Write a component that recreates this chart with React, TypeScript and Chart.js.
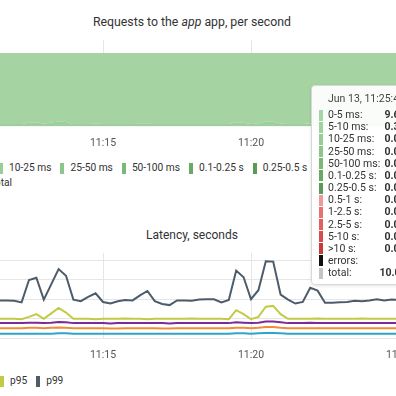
import React, { useEffect, useRef } from "react";
import { Chart, registerables } from "chart.js";

Chart.register(...registerables);

// sample times, seconds of day (11:11:15 .. 11:25:45, every 15 s)
const times: number[] = Array.from({ length: 59 }, (_, i) => 40275 + i * 15);
const xTicks = [40500, 40800, 41100];
const latencyGridValues = [0, 0.05, 0.1, 0.15, 0.2];

// requests per second by latency bucket
const ms0_5 = [
  9.68, 9.67, 9.68, 9.66, 9.68, 9.5, 9.43, 9.64, 9.48, 9.32,
  9.4, 9.67, 9.68, 9.66, 9.64, 9.68, 9.69, 9.68, 9.67, 9.67,
  9.65, 9.64, 9.68, 9.69, 9.68, 9.67, 9.68, 9.68, 9.67, 9.68,
  9.69, 9.68, 9.67, 9.45, 9.5, 9.67, 9.57, 9.34, 9.36, 9.59,
  9.68, 9.69, 9.68, 9.62, 9.64, 9.68, 9.68, 9.67, 9.68, 9.68,
  9.69, 9.68, 9.67, 9.68, 9.68, 9.67, 9.68, 9.68, 9.65,
];
const ms5_10 = [
  0.3, 0.31, 0.3, 0.32, 0.3, 0.46, 0.52, 0.34, 0.48, 0.62,
  0.55, 0.31, 0.3, 0.32, 0.33, 0.3, 0.29, 0.3, 0.31, 0.3,
  0.32, 0.34, 0.3, 0.29, 0.3, 0.31, 0.3, 0.3, 0.31, 0.3,
  0.29, 0.3, 0.31, 0.5, 0.46, 0.31, 0.4, 0.6, 0.58, 0.38,
  0.3, 0.29, 0.3, 0.35, 0.33, 0.3, 0.3, 0.31, 0.3, 0.3,
  0.29, 0.3, 0.31, 0.3, 0.3, 0.31, 0.3, 0.3, 0.33,
];
const ms10_25 = [
  0.02, 0.02, 0.02, 0.02, 0.02, 0.04, 0.05, 0.02, 0.04, 0.06,
  0.05, 0.02, 0.02, 0.02, 0.03, 0.02, 0.02, 0.02, 0.02, 0.03,
  0.03, 0.02, 0.02, 0.02, 0.02, 0.02, 0.02, 0.02, 0.02, 0.02,
  0.02, 0.02, 0.02, 0.05, 0.04, 0.02, 0.03, 0.06, 0.06, 0.03,
  0.02, 0.02, 0.02, 0.03, 0.03, 0.02, 0.02, 0.02, 0.02, 0.02,
  0.02, 0.02, 0.02, 0.02, 0.02, 0.02, 0.02, 0.02, 0.02,
];

// latency percentiles, seconds
const p50 = [
  0.012, 0.012, 0.012, 0.012, 0.012, 0.012, 0.012, 0.012, 0.012, 0.013,
  0.013, 0.012, 0.012, 0.012, 0.012, 0.012, 0.012, 0.012, 0.012, 0.012,
  0.012, 0.012, 0.012, 0.012, 0.012, 0.012, 0.012, 0.012, 0.012, 0.012,
  0.012, 0.012, 0.012, 0.013, 0.013, 0.012, 0.013, 0.014, 0.014, 0.013,
  0.012, 0.012, 0.012, 0.012, 0.012, 0.012, 0.012, 0.012, 0.012, 0.012,
  0.012, 0.012, 0.012, 0.012, 0.012, 0.012, 0.012, 0.012, 0.012,
];
const p75 = [
  0.026, 0.026, 0.026, 0.026, 0.026, 0.027, 0.027, 0.026, 0.027, 0.028,
  0.027, 0.026, 0.026, 0.026, 0.026, 0.026, 0.025, 0.025, 0.026, 0.026,
  0.026, 0.026, 0.026, 0.025, 0.025, 0.026, 0.026, 0.026, 0.026, 0.026,
  0.026, 0.026, 0.026, 0.027, 0.027, 0.026, 0.027, 0.029, 0.029, 0.027,
  0.026, 0.026, 0.026, 0.026, 0.026, 0.026, 0.026, 0.026, 0.026, 0.026,
  0.026, 0.026, 0.026, 0.026, 0.026, 0.026, 0.026, 0.026, 0.026,
];
const p90 = [
  0.039, 0.039, 0.039, 0.039, 0.039, 0.04, 0.04, 0.039, 0.04, 0.042,
  0.041, 0.039, 0.039, 0.039, 0.039, 0.039, 0.038, 0.039, 0.039, 0.039,
  0.039, 0.039, 0.039, 0.039, 0.038, 0.039, 0.039, 0.039, 0.039, 0.039,
  0.039, 0.039, 0.039, 0.041, 0.04, 0.039, 0.04, 0.043, 0.043, 0.041,
  0.039, 0.039, 0.039, 0.04, 0.039, 0.039, 0.039, 0.039, 0.039, 0.039,
  0.039, 0.039, 0.039, 0.039, 0.039, 0.039, 0.039, 0.039, 0.039,
];
const p95 = [
  0.05, 0.05, 0.05, 0.05, 0.049, 0.055, 0.062, 0.05, 0.064, 0.078,
  0.066, 0.05, 0.05, 0.05, 0.049, 0.05, 0.05, 0.05, 0.051, 0.05,
  0.05, 0.049, 0.05, 0.05, 0.05, 0.05, 0.05, 0.051, 0.05, 0.05,
  0.05, 0.05, 0.049, 0.072, 0.062, 0.049, 0.055, 0.081, 0.083, 0.062,
  0.05, 0.05, 0.05, 0.05, 0.051, 0.05, 0.05, 0.05, 0.05, 0.05,
  0.051, 0.05, 0.05, 0.05, 0.05, 0.05, 0.05, 0.05, 0.05,
];
const p99 = [
  0.097, 0.097, 0.097, 0.096, 0.092, 0.149, 0.155, 0.099, 0.138, 0.177,
  0.16, 0.099, 0.095, 0.106, 0.115, 0.093, 0.089, 0.095, 0.098, 0.097,
  0.11, 0.121, 0.095, 0.088, 0.085, 0.097, 0.097, 0.096, 0.099, 0.1,
  0.1, 0.092, 0.098, 0.173, 0.156, 0.1, 0.123, 0.197, 0.196, 0.112,
  0.099, 0.089, 0.093, 0.129, 0.122, 0.091, 0.091, 0.092, 0.093, 0.096,
  0.095, 0.097, 0.1, 0.097, 0.099, 0.098, 0.097, 0.099, 0.098,
];

const bucketLabels = [
  "0-5 ms", "5-10 ms", "10-25 ms", "25-50 ms", "50-100 ms", "0.1-0.25 s", "0.25-0.5 s",
  "0.5-1 s", "1-2.5 s", "2.5-5 s", "5-10 s", ">10 s", "errors", "total",
];
const bucketColors = [
  "#a5d6a7", "#9ed29f", "#97cd96", "#8dc68b", "#79b876", "#66aa63", "#579d54",
  "#ef9a9a", "#e57373", "#e15f5f", "#d84b4b", "#c93b36", "#111111", "#c4c4c4",
];
const areaColors = ["#a5d4a2", "#9dcf9a", "#94ca91"];

const pctLabels = ["p50", "p75", "p90", "p95", "p99"];
const pctColors = ["#2ea5c6", "#ef8c3a", "#7b2a9a", "#c3cb46", "#4d5c6b"];

const FONT = "Roboto, 'Noto Sans', sans-serif";
const PX_PER_SEC = 7.4 / 15;
const X_MIN = 40500 - 103 / PX_PER_SEC;
const X_MAX = X_MIN + 500 / PX_PER_SEC;

const fmtTime = (v: number) => {
  const h = Math.floor(v / 3600);
  const m = Math.floor((v % 3600) / 60);
  return `${h}:${String(m).padStart(2, "0")}`;
};
const fmtFull = (v: number) => {
  const h = Math.floor(v / 3600);
  const m = Math.floor((v % 3600) / 60);
  const s = Math.round(v % 60);
  return `Jun 13, ${h}:${String(m).padStart(2, "0")}:${String(s).padStart(2, "0")}`;
};

const xScale = () => ({
  type: "linear" as const,
  min: X_MIN,
  max: X_MAX,
  afterBuildTicks: (s: any) => {
    s.ticks = xTicks.map((v) => ({ value: v }));
  },
  ticks: {
    callback: (v: any) => fmtTime(Number(v)),
    color: "#555",
    font: { family: FONT, size: 10.5, lineHeight: 1.2 },
    padding: 11,
    maxRotation: 0,
    autoSkip: false,
  },
  grid: { color: "#e6e6e6", drawTicks: false },
  border: { display: false },
});

function LegendItem({ label, color, last }: { label: string; color: string; last?: boolean }) {
  return (
    <span style={{ display: "inline-flex", alignItems: "center", height: 12, marginRight: last ? 0 : 9, whiteSpace: "nowrap" }}>
      <span style={{ display: "inline-block", width: 4, height: 11, background: color, marginRight: 6 }} />
      {label}
    </span>
  );
}

const legendRow = { display: "flex", fontSize: 10.2, lineHeight: "12px" } as const;

export default function App() {
  const topRef = useRef<HTMLCanvasElement>(null);
  const latRef = useRef<HTMLCanvasElement>(null);

  useEffect(() => {
    const stackSeries = [
      { label: bucketLabels[2], data: ms10_25, color: areaColors[2] },
      { label: bucketLabels[1], data: ms5_10, color: areaColors[1] },
      { label: bucketLabels[0], data: ms0_5, color: areaColors[0] },
    ];
    const top = new Chart(topRef.current!, {
      type: "line",
      data: {
        datasets: stackSeries.map((s, i) => ({
          label: s.label,
          data: times.map((t, k) => ({ x: t, y: s.data[k] })),
          fill: i === 0 ? "origin" : "-1",
          backgroundColor: s.color,
          borderColor: s.color,
          borderWidth: 0,
          pointRadius: 0,
          tension: 0,
        })),
      },
      options: {
        animation: false,
        responsive: false,
        layout: { padding: 0 },
        plugins: { legend: { display: false }, tooltip: { enabled: false } },
        scales: {
          x: xScale(),
          y: { display: false, stacked: true, min: 0, max: 11.77 },
        },
      } as any,
    });

    const pctSeries = [p50, p75, p90, p95, p99];
    const lat = new Chart(latRef.current!, {
      type: "line",
      data: {
        datasets: pctSeries.map((d, i) => ({
          label: pctLabels[i],
          data: times.map((t, k) => ({ x: t, y: d[k] })),
          fill: false,
          borderColor: pctColors[i],
          backgroundColor: pctColors[i],
          borderWidth: 2,
          pointRadius: 0,
          tension: 0,
        })),
      },
      options: {
        animation: false,
        responsive: false,
        layout: { padding: 0 },
        plugins: { legend: { display: false }, tooltip: { enabled: false } },
        scales: {
          x: xScale(),
          y: {
            min: 0,
            max: 0.218,
            afterBuildTicks: (s: any) => {
              s.ticks = latencyGridValues.map((v) => ({ value: v }));
            },
            ticks: { display: false },
            grid: { color: "#e6e6e6", drawTicks: false },
            border: { display: false },
          },
        },
      } as any,
    });
    return () => {
      top.destroy();
      lat.destroy();
    };
  }, []);

  const last = times.length - 1;
  const hoverValues: (number | null)[] = bucketLabels.map((_, i) => {
    if (i === 0) return ms0_5[last];
    if (i === 1) return ms5_10[last];
    if (i === 2) return ms10_25[last];
    if (i === 12) return null;
    if (i === 13) return ms0_5[last] + ms5_10[last] + ms10_25[last];
    return 0;
  });

  return (
    <div
      style={{
        position: "fixed",
        left: 0,
        top: 0,
        width: 396,
        height: 396,
        overflow: "hidden",
        background: "#fff",
        fontFamily: FONT,
        color: "#333",
      }}
    >
      <div style={{ position: "absolute", top: 13.5, left: 0, width: 384, textAlign: "center", fontSize: 12.3, lineHeight: "16px" }}>
        Requests to the <i>app</i> app, per second
      </div>
      <canvas ref={topRef} width={500} height={121} style={{ position: "absolute", left: 0, top: 40, width: 500, height: 121 }} />

      {/* requests legend */}
      <div style={{ position: "absolute", top: 162, right: 397, ...legendRow }}>
        {bucketLabels.slice(0, 2).map((l, i) => (
          <LegendItem key={l} label={l} color={bucketColors[i]} />
        ))}
      </div>
      <div style={{ position: "absolute", top: 162, left: -1, ...legendRow }}>
        {bucketLabels.slice(2, 11).map((l, i) => (
          <LegendItem key={l} label={l} color={bucketColors[i + 2]} />
        ))}
      </div>
      <div style={{ position: "absolute", top: 177, right: 384, ...legendRow }}>
        {bucketLabels.slice(11).map((l, i) => (
          <LegendItem key={l} label={l} color={bucketColors[i + 11]} last={i === 2} />
        ))}
      </div>

      <div style={{ position: "absolute", top: 227, left: 0, width: 384, textAlign: "center", fontSize: 12, lineHeight: "16px" }}>
        Latency, seconds
      </div>
      <canvas ref={latRef} width={500} height={120} style={{ position: "absolute", left: 0, top: 253, width: 500, height: 120 }} />

      {/* latency legend */}
      <div style={{ position: "absolute", top: 375, right: 396, ...legendRow }}>
        {pctLabels.slice(0, 3).map((l, i) => (
          <LegendItem key={l} label={l} color={pctColors[i]} />
        ))}
      </div>
      <div style={{ position: "absolute", top: 375, left: 0, ...legendRow }}>
        {pctLabels.slice(3).map((l, i) => (
          <LegendItem key={l} label={l} color={pctColors[i + 3]} />
        ))}
      </div>

      {/* hover tooltip */}
      <div
        style={{
          position: "absolute",
          left: 311,
          top: 85,
          width: 130,
          height: 200,
          boxSizing: "border-box",
          border: "1px solid #d8d8d8",
          borderRadius: 4,
          background: "rgba(255,255,255,0.93)",
          boxShadow: "0 1px 3px rgba(0,0,0,0.12)",
          fontSize: 10.5,
          zIndex: 5,
        }}
      >
        <div style={{ position: "absolute", left: 16, top: 5.6, lineHeight: "13px", color: "#444", whiteSpace: "nowrap" }}>
          {fmtFull(times[last])}
        </div>
        {bucketLabels.map((l, i) => (
          <div
            key={l}
            style={{
              position: "absolute",
              left: 7,
              top: 23.1 + i * 12.15,
              height: 12.15,
              display: "flex",
              alignItems: "center",
              lineHeight: "12px",
              whiteSpace: "nowrap",
            }}
          >
            <span style={{ display: "inline-block", width: 4, height: 11, background: bucketColors[i], marginRight: 5 }} />
            <span style={{ display: "inline-block", width: 51.5 }}>{l}:</span>
            <span style={{ display: "inline-block", width: 26, textAlign: "right", fontWeight: 700 }}>
              {hoverValues[i] === null ? "" : (hoverValues[i] as number).toFixed(2)}
            </span>
          </div>
        ))}
      </div>
    </div>
  );
}
